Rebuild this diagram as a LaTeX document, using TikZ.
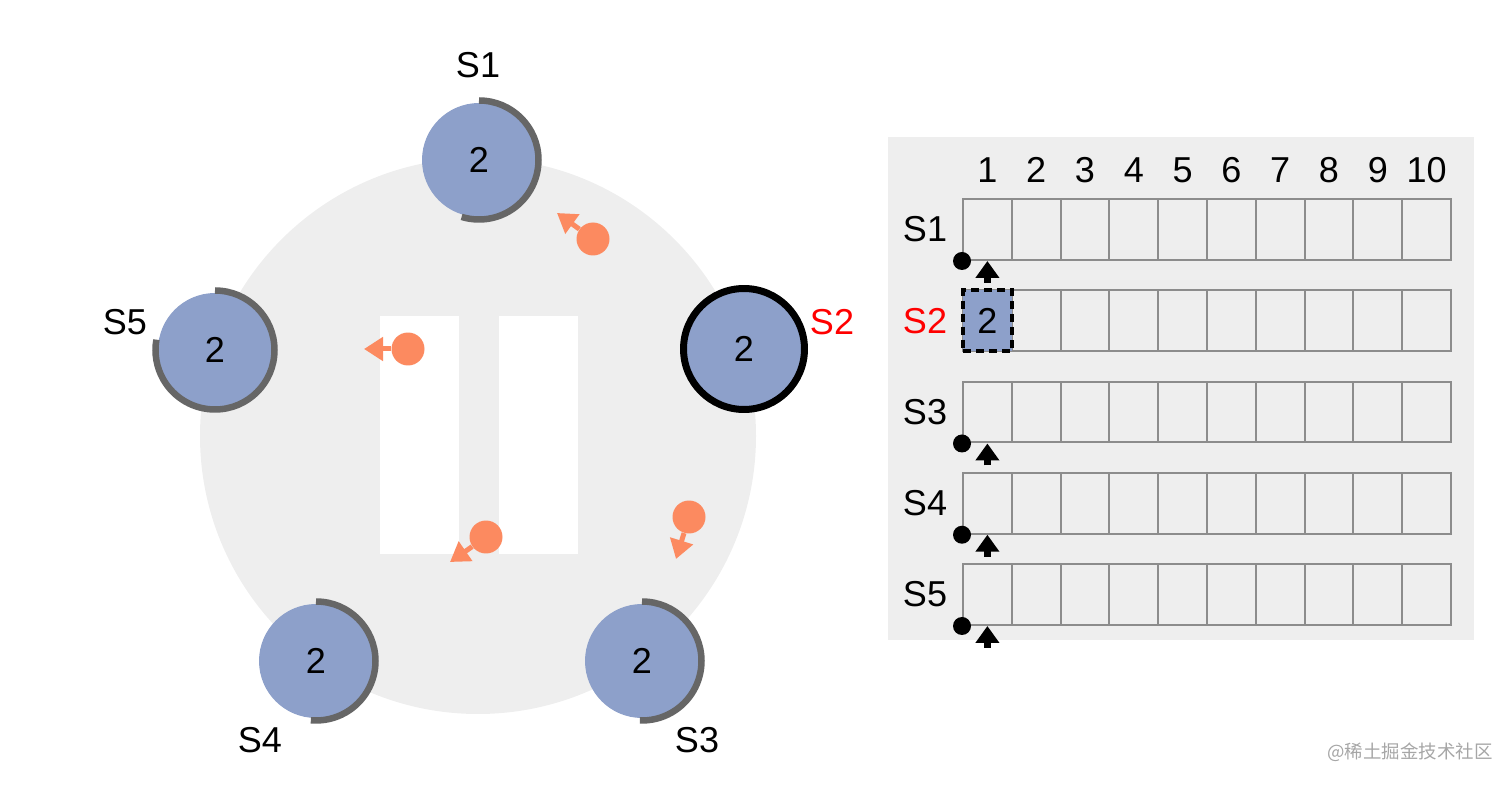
\documentclass[tikz,border=0pt]{standalone}
\usepackage{fontspec}
\setmainfont{Liberation Sans}
\newfontfamily\cjkfont{Noto Sans CJK SC}
\usetikzlibrary{arrows.meta}
\definecolor{srvblue}{RGB}{141,160,202}
\definecolor{msgorange}{RGB}{252,138,96}
\definecolor{ringgray}{RGB}{102,102,102}
\definecolor{bggray}{RGB}{238,238,238}
\definecolor{cellgray}{RGB}{140,140,140}

\begin{document}
\begin{tikzpicture}[x=0.02cm, y=0.02cm, every node/.style={font=\fontsize{20.5}{24}\selectfont},
  server/.style={circle, fill=srvblue, minimum size=2.28cm, inner sep=0pt},
  leader/.style={server, draw=black, line width=0.14cm, minimum size=2.42cm},
  ring/.style={ringgray, line width=0.13cm},
  msg/.style={circle, fill=msgorange, minimum size=0.66cm, inner sep=0pt},
  msgarrow/.style={msgorange, line width=0.1cm, -{Triangle[length=0.38cm, width=0.46cm]}},
  cell/.style={draw=cellgray, line width=0.04cm, minimum width=0.976cm, minimum height=1.22cm, inner sep=0pt},
  entry/.style={cell, fill=srvblue, draw=black, line width=0.08cm, dash pattern=on 0.16cm off 0.1cm},
  ptr/.style={circle, fill=black, minimum size=0.36cm, inner sep=0pt},
  ptrarrow/.style={line width=0.14cm, -{Triangle[length=0.34cm, width=0.46cm]}}]
  \useasboundingbox (0,0) rectangle (1512,785);

  % cluster
  \fill[bggray] (478,349) circle (278);
  \fill[white] (380,231) rectangle (459,469);
  \fill[white] (499,231) rectangle (578,469);

  \node[server] (s1) at (479,625) {2};
  \node[leader] (s2) at (744,436) {2};
  \node[server] (s3) at (642,124) {2};
  \node[server] (s4) at (316,124) {2};
  \node[server] (s5) at (215,435) {2};
  \draw[ring] ([shift={(90:59.5)}]s1.center) arc[start angle=90, end angle=-107, radius=59.5];
  \draw[ring] ([shift={(90:59.5)}]s3.center) arc[start angle=90, end angle=-92, radius=59.5];
  \draw[ring] ([shift={(90:59.5)}]s4.center) arc[start angle=90, end angle=-95, radius=59.5];
  \draw[ring] ([shift={(90:59.5)}]s5.center) arc[start angle=90, end angle=-190, radius=59.5];

  \node (n1) at (478,720) {S1};
  \node[red] (n2) at (832,463) {S2};
  \node (n3) at (697,45) {S3};
  \node (n4) at (260,45) {S4};
  \node (n5) at (125,463) {S5};

  \node[msg] (m1) at (593,546) {};
  \node[msg] (m2) at (408,436) {};
  \node[msg] (m3) at (486,248) {};
  \node[msg] (m4) at (689,268) {};
  \coordinate (t1) at (557,572);
  \coordinate (t2) at (364,436);
  \coordinate (t3) at (450,223);
  \coordinate (t4) at (676,226);
  \foreach \i in {1,...,4}
    \draw[msgarrow] (m\i) -- (t\i);

  % logs
  \fill[bggray] (888,145) rectangle (1474,648);
  \foreach \c in {1,...,10}
    \node (h\c) at ({963+48.8*(\c-0.5)},615) {\c};
  \foreach \r/\col in {1/black,2/red,3/black,4/black,5/black} {
    \node[\col] (r\r) at (925,{555.5-91.25*(\r-1)}) {S\r};
    \foreach \c in {1,...,10}
      \node[cell] (c\r-\c) at ({963+48.8*(\c-0.5)},{555.5-91.25*(\r-1)}) {};
  }
  \node[entry] (e2) at (c2-1) {2};
  \foreach \r in {1,3,4,5} {
    \node[ptr] (p\r) at (c\r-1.south west) {};
    \coordinate (a\r) at ([yshift=-0.44cm]c\r-1.south);
    \draw[ptrarrow] (a\r) -- (c\r-1.south);
  }

  \node[gray!70, font=\cjkfont\fontsize{10.5}{12}\selectfont] (wm) at (1410,33) {@稀土掘金技术社区};
\end{tikzpicture}
\end{document}
